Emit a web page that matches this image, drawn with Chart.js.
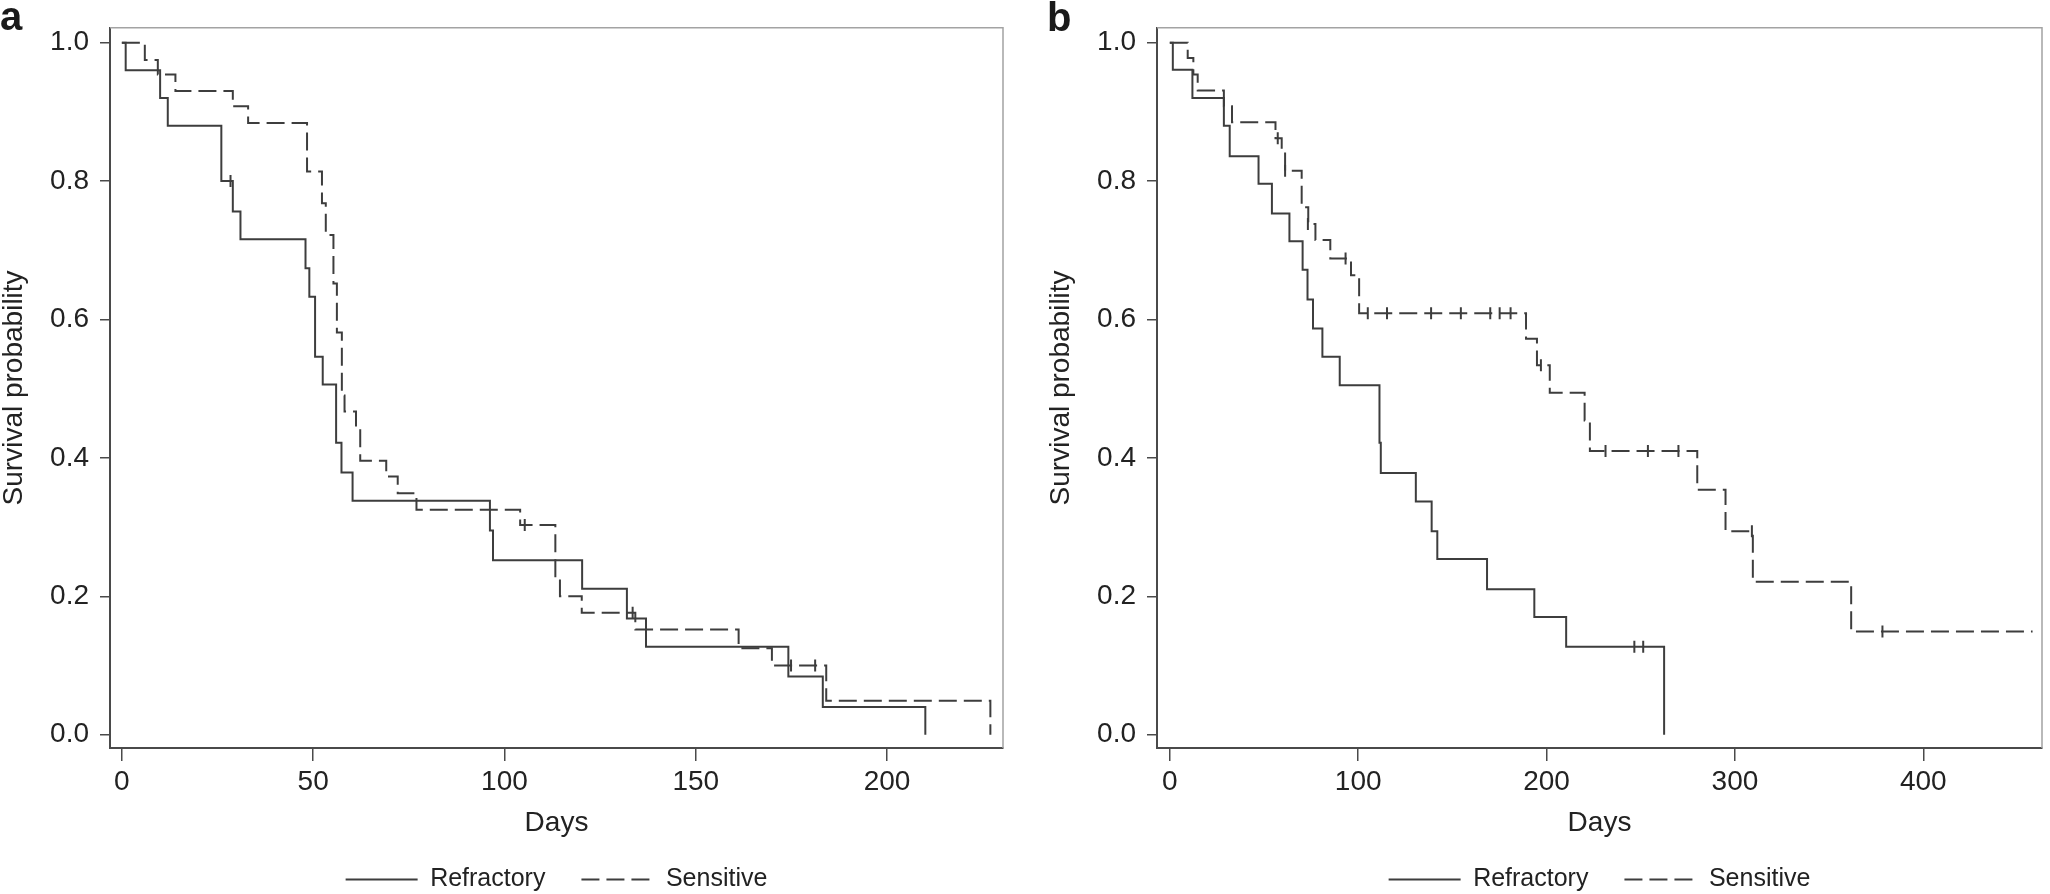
<!DOCTYPE html>
<html lang="en">
<head>
<meta charset="UTF-8">
<title>Survival probability by group</title>
<script src="https://cdn.jsdelivr.net/npm/chart.js"></script>
<style>
    body {
        margin: 0;
        background: #ffffff;
        overflow: hidden;
        font-family: "Liberation Sans", Arial, sans-serif;
    }
    .wrap { position: relative; width: 2050px; height: 902px; }
    .panel { position: absolute; top: 0; width: 1025px; height: 902px; }
    .letter {
        position: absolute;
        font-weight: bold;
        font-size: 40px;
        line-height: 40px;
        color: #1a1a1a;
    }
</style>
</head>
<body>
<div class="wrap">
    <div class="panel" style="left:0"><canvas id="chartA"></canvas></div>
    <div class="panel" style="left:1025px"><canvas id="chartB"></canvas></div>
    <div class="letter" style="left:0;top:-4px">a</div>
    <div class="letter" style="left:1047px;top:-3px">b</div>
</div>

<script>
    const groupLabels = ['Refractory', 'Sensitive'];
    const yTicks = [0, 0.2, 0.4, 0.6, 0.8, 1.0];
    const xTicksA = [0, 50, 100, 150, 200];
    const xTicksB = [0, 100, 200, 300, 400];

    // panel a
    const aRefDays = [0, 1, 10, 12, 26, 29, 31, 48, 49, 50.5, 52.5, 56, 57.4, 60.3, 96.2, 97, 120.3, 132, 137, 174.2, 183.2, 210];
    const aRefSurv = [1, 0.96, 0.92, 0.88, 0.80, 0.756, 0.716, 0.674, 0.633, 0.546, 0.506, 0.422, 0.379, 0.338, 0.295, 0.252, 0.211, 0.168, 0.127, 0.084, 0.040, 0];
    const aRefCensDays = [28.4];
    const aRefCensSurv = [0.80];

    const aSenDays = [0, 6, 9.4, 14, 29, 33, 48.4, 52.3, 53.3, 55.3, 56.2, 57.5, 58.2, 61.2, 62.3, 69.1, 72.1, 77, 104.1, 113.3, 114.5, 120.2, 134.2, 161.2, 169.9, 184.1, 227];
    const aSenSurv = [1, 0.975, 0.954, 0.930, 0.908, 0.884, 0.814, 0.768, 0.722, 0.652, 0.581, 0.490, 0.467, 0.442, 0.396, 0.373, 0.349, 0.325, 0.303, 0.226, 0.200, 0.176, 0.152, 0.125, 0.100, 0.049, 0];
    const aSenCensDays = [105.3, 133.5, 174.9, 181.2];
    const aSenCensSurv = [0.303, 0.176, 0.100, 0.100];

    // panel b
    const bRefDays = [0, 1.6, 12, 28.7, 31.8, 47.1, 54.2, 63.5, 70.5, 73.1, 76, 81, 90.2, 111.3, 112, 130.6, 139, 142, 168.4, 193.5, 210.4, 262.4];
    const bRefSurv = [1, 0.961, 0.920, 0.880, 0.836, 0.796, 0.753, 0.713, 0.672, 0.629, 0.587, 0.546, 0.505, 0.422, 0.378, 0.337, 0.294, 0.254, 0.210, 0.170, 0.127, 0];
    const bRefCensDays = [246.6, 251.3];
    const bRefCensSurv = [0.127, 0.127];

    const bSenDays = [0, 9.5, 12.5, 14.8, 28.7, 33, 56.1, 59.4, 61.2, 70, 73.5, 77.3, 85.2, 96.2, 100.5, 189.1, 194.9, 201.7, 220.2, 223, 280, 295, 309.5, 361.7, 458];
    const bSenSurv = [1, 0.978, 0.954, 0.931, 0.908, 0.885, 0.862, 0.842, 0.815, 0.762, 0.738, 0.715, 0.688, 0.664, 0.609, 0.572, 0.534, 0.494, 0.454, 0.410, 0.354, 0.294, 0.221, 0.149, 0.149];
    const bSenCensDays = [57.3, 61.2, 73.3, 93.3, 105.1, 115.3, 138.7, 154.5, 170.1, 175.1, 180.9, 197, 231.3, 253.8, 270, 309, 378.3];
    const bSenCensSurv = [0.862, 0.815, 0.738, 0.688, 0.609, 0.609, 0.609, 0.609, 0.609, 0.609, 0.609, 0.534, 0.410, 0.410, 0.410, 0.294, 0.149];

    const lineColor = '#3d3d3d';
    const axisColor = '#4a4a4a';
    const textColor = '#222222';
    const fontFamily = '"Liberation Sans", Arial, Helvetica, sans-serif';

    function pts(xs, ys) {
        return xs.map((x, i) => ({ x: x, y: ys[i] }));
    }

    // light frame on the top and right of the plot region
    const framePlugin = {
        id: 'frame',
        beforeDatasetsDraw(chart) {
            const { ctx, chartArea } = chart;
            ctx.save();
            ctx.strokeStyle = '#a3a3a3';
            ctx.lineWidth = 1.5;
            ctx.beginPath();
            ctx.moveTo(chartArea.left, chartArea.top);
            ctx.lineTo(chartArea.right, chartArea.top);
            ctx.lineTo(chartArea.right, chartArea.bottom);
            ctx.stroke();
            ctx.restore();
        }
    };

    function curve(label, xs, ys, dash) {
        return {
            label: label,
            data: pts(xs, ys),
            stepped: true,
            borderColor: lineColor,
            backgroundColor: lineColor,
            borderWidth: 2,
            borderDash: dash,
            pointRadius: 0,
            fill: false
        };
    }

    function censors(xs, ys) {
        return {
            type: 'scatter',
            label: 'censored',
            data: pts(xs, ys),
            showLine: false,
            pointStyle: 'line',
            rotation: 90,
            pointRadius: 6,
            borderColor: lineColor,
            borderWidth: 2
        };
    }

    // legend samples take dash and width from the curve, not from its points
    function legendItems(chart) {
        const items = Chart.defaults.plugins.legend.labels.generateLabels(chart);
        return items.filter(it => it.datasetIndex < 2).map(it => {
            const ds = chart.data.datasets[it.datasetIndex];
            it.lineDash = ds.borderDash;
            it.lineWidth = ds.borderWidth;
            it.strokeStyle = ds.borderColor;
            return it;
        });
    }

    function makePanel(id, cfg) {
        const ctx = document.getElementById(id).getContext('2d');
        return new Chart(ctx, {
            type: 'line',
            data: {
                datasets: [
                    curve(groupLabels[0], cfg.refDays, cfg.refSurv, []),
                    curve(groupLabels[1], cfg.senDays, cfg.senSurv, [18, 7]),
                    censors(cfg.refCensDays, cfg.refCensSurv),
                    censors(cfg.senCensDays, cfg.senCensSurv)
                ]
            },
            options: {
                responsive: true,
                maintainAspectRatio: false,
                animation: false,
                events: [],
                layout: {
                    padding: { left: cfg.padLeft, right: cfg.padRight, top: 9, bottom: 0 }
                },
                scales: {
                    x: {
                        type: 'linear',
                        min: cfg.xMin,
                        max: cfg.xMax,
                        afterBuildTicks: (scale) => {
                            scale.ticks = cfg.xTicks.map(v => ({ value: v }));
                        },
                        afterFit: (scale) => { scale.height = 83; },
                        border: { display: true, color: axisColor, width: 2 },
                        grid: {
                            drawOnChartArea: false,
                            drawTicks: true,
                            tickLength: 13,
                            color: axisColor,
                            lineWidth: 1.5
                        },
                        ticks: {
                            color: textColor,
                            padding: 4,
                            maxRotation: 0,
                            font: { family: fontFamily, size: 28 }
                        },
                        title: {
                            display: true,
                            text: 'Days',
                            color: textColor,
                            padding: 0,
                            font: { family: fontFamily, size: 28, lineHeight: 0.57 }
                        }
                    },
                    y: {
                        min: -0.0193,
                        max: 1.0215,
                        afterBuildTicks: (scale) => {
                            scale.ticks = yTicks.map(v => ({ value: v }));
                        },
                        afterFit: (scale) => { scale.width = 110; },
                        border: { display: true, color: axisColor, width: 2 },
                        grid: {
                            drawOnChartArea: false,
                            drawTicks: true,
                            tickLength: 10,
                            color: axisColor,
                            lineWidth: 1.5
                        },
                        ticks: {
                            color: textColor,
                            padding: 11,
                            font: { family: fontFamily, size: 28 },
                            callback: (v) => Number(v).toFixed(1)
                        },
                        title: {
                            display: true,
                            text: 'Survival probability',
                            color: textColor,
                            padding: 0,
                            font: { family: fontFamily, size: 28, lineHeight: 1 }
                        }
                    }
                },
                plugins: {
                    legend: {
                        display: true,
                        position: 'bottom',
                        fullSize: false,
                        labels: {
                            usePointStyle: true,
                            pointStyle: 'line',
                            pointStyleWidth: 72,
                            padding: 36,
                            color: textColor,
                            font: { family: fontFamily, size: 25 },
                            generateLabels: legendItems
                        }
                    },
                    tooltip: { enabled: false }
                }
            },
            plugins: [framePlugin]
        });
    }

    makePanel('chartA', {
        refDays: aRefDays, refSurv: aRefSurv,
        senDays: aSenDays, senSurv: aSenSurv,
        refCensDays: aRefCensDays, refCensSurv: aRefCensSurv,
        senCensDays: aSenCensDays, senCensSurv: aSenCensSurv,
        xMin: -3.1, xMax: 230.3, xTicks: xTicksA,
        padLeft: 0, padRight: 22
    });

    makePanel('chartB', {
        refDays: bRefDays, refSurv: bRefSurv,
        senDays: bSenDays, senSurv: bSenSurv,
        refCensDays: bRefCensDays, refCensSurv: bRefCensSurv,
        senCensDays: bSenCensDays, senCensSurv: bSenCensSurv,
        xMin: -6.8, xMax: 463, xTicks: xTicksB,
        padLeft: 22, padRight: 2
    });
</script>
</body>
</html>
